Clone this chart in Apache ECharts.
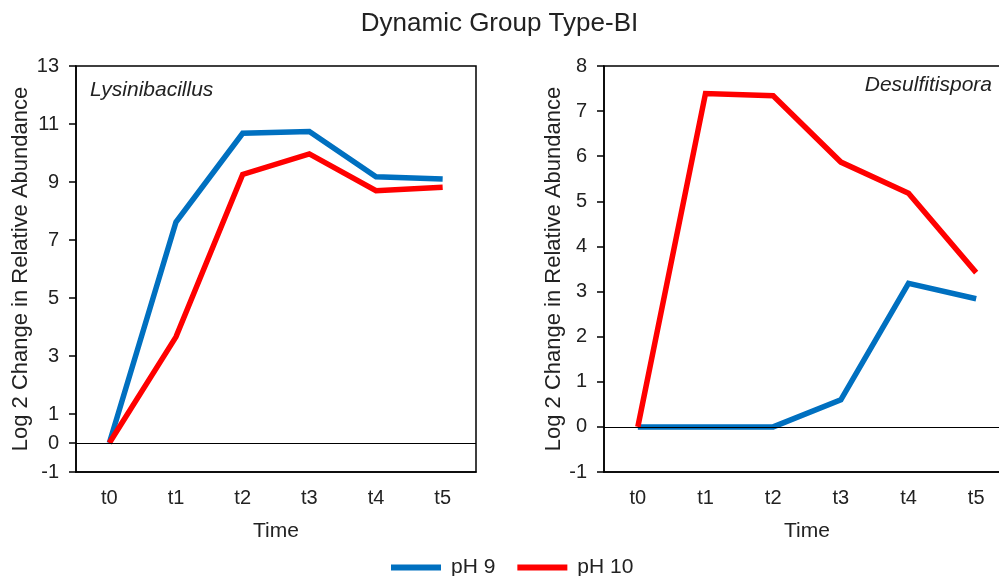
<!DOCTYPE html>
<html>
<head>
<meta charset="utf-8">
<script src="https://cdn.jsdelivr.net/npm/echarts@6/dist/echarts.min.js"></script>
<style>
  html, body { margin: 0; padding: 0; background: #fff; }
  #chart { width: 999px; height: 576px; }
</style>
</head>
<body>
<div id="chart"></div>
<script>
// Time points shared by both panels
const timePoints = ['t0', 't1', 't2', 't3', 't4', 't5'];

// Lysinibacillus: log2 change per time point
const lysiPH9 = [0, 7.62, 10.68, 10.74, 9.18, 9.1];
const lysiPH10 = [0, 3.66, 9.26, 9.97, 8.7, 8.82];

// Desulfitispora: log2 change per time point
const desuPH9 = [0, 0, 0, 0.6, 3.18, 2.84];
const desuPH10 = [0, 7.39, 7.34, 5.87, 5.18, 3.42];

// Tick values on each y axis
const lysiTicks = [-1, 0, 1, 3, 5, 7, 9, 11, 13];
const desuTicks = [-1, 0, 1, 2, 3, 4, 5, 6, 7, 8];

const FONT = '"Liberation Sans", Arial, sans-serif';
const TXT = '#222';
const BLUE = '#0070c0';
const RED = '#ff0000';

const chart = echarts.init(document.getElementById('chart'));

function xAxisFor(gridIndex) {
  return {
    type: 'category',
    gridIndex,
    data: timePoints,
    boundaryGap: true,
    name: 'Time',
    nameLocation: 'middle',
    nameGap: 49,
    nameTextStyle: { fontFamily: FONT, fontSize: 21, color: TXT },
    axisLine: { onZero: false, lineStyle: { color: '#000', width: 1.5 } },
    axisTick: { alignWithLabel: true, length: 5, lineStyle: { color: '#000', width: 1.5 } },
    axisLabel: { fontFamily: FONT, fontSize: 20, color: TXT, margin: 16 },
    splitLine: { show: false }
  };
}

function yAxisFor(gridIndex, min, max, ticks, gap) {
  return {
    type: 'value',
    gridIndex,
    min,
    max,
    name: 'Log 2 Change in Relative Abundance',
    nameLocation: 'middle',
    nameGap: gap,
    nameTextStyle: { fontFamily: FONT, fontSize: 22, color: TXT },
    axisLine: { show: true, lineStyle: { color: '#000', width: 1.5 } },
    axisTick: { show: true, length: 7, customValues: ticks, lineStyle: { color: '#000', width: 1.5 } },
    axisLabel: { fontFamily: FONT, fontSize: 20, color: TXT, margin: 17, customValues: ticks },
    splitLine: { show: false }
  };
}

function lineSeries(name, color, data, idx) {
  return {
    name,
    type: 'line',
    xAxisIndex: idx,
    yAxisIndex: idx,
    data,
    symbol: 'none',
    lineStyle: { color, width: 5.5, join: 'miter' },
    itemStyle: { color },
    z: 3
  };
}

function zeroLine(idx) {
  return {
    type: 'line',
    xAxisIndex: idx,
    yAxisIndex: idx,
    data: [],
    silent: true,
    z: 2,
    markLine: {
      silent: true,
      symbol: 'none',
      label: { show: false },
      lineStyle: { color: '#000', width: 1, type: 'solid' },
      data: [{ yAxis: 0 }]
    }
  };
}

chart.setOption({
  animation: false,
  backgroundColor: '#fff',
  title: {
    text: 'Dynamic Group Type-BI',
    left: 'center',
    top: 6,
    textStyle: { fontFamily: FONT, fontSize: 26, fontWeight: 'normal', color: TXT }
  },
  legend: {
    top: 552,
    left: 386,
    icon: 'rect',
    itemWidth: 50,
    itemHeight: 6,
    itemGap: 22,
    textStyle: { fontFamily: FONT, fontSize: 21, color: TXT, padding: [0, 0, 0, 5] },
    data: ['pH 9', 'pH 10']
  },
  grid: [
    { left: 76, top: 66, width: 400, height: 406, outerBoundsMode: 'none', show: true, borderColor: '#000', borderWidth: 1.5, backgroundColor: 'transparent' },
    { left: 604, top: 66, width: 406, height: 406, outerBoundsMode: 'none', show: true, borderColor: '#000', borderWidth: 1.5, backgroundColor: 'transparent' }
  ],
  xAxis: [xAxisFor(0), xAxisFor(1)],
  yAxis: [
    yAxisFor(0, -1, 13, lysiTicks, 44),
    yAxisFor(1, -1, 8, desuTicks, 39)
  ],
  graphic: [
    { type: 'text', left: 90, top: 80, style: { text: 'Lysinibacillus', fontFamily: FONT, fontSize: 21, fontStyle: 'italic', fill: TXT } },
    { type: 'text', right: 7, top: 75, style: { text: 'Desulfitispora', fontFamily: FONT, fontSize: 21, fontStyle: 'italic', fill: TXT } }
  ],
  series: [
    zeroLine(0),
    zeroLine(1),
    lineSeries('pH 9', BLUE, lysiPH9, 0),
    lineSeries('pH 10', RED, lysiPH10, 0),
    lineSeries('pH 9', BLUE, desuPH9, 1),
    lineSeries('pH 10', RED, desuPH10, 1)
  ]
});
</script>
</body>
</html>
